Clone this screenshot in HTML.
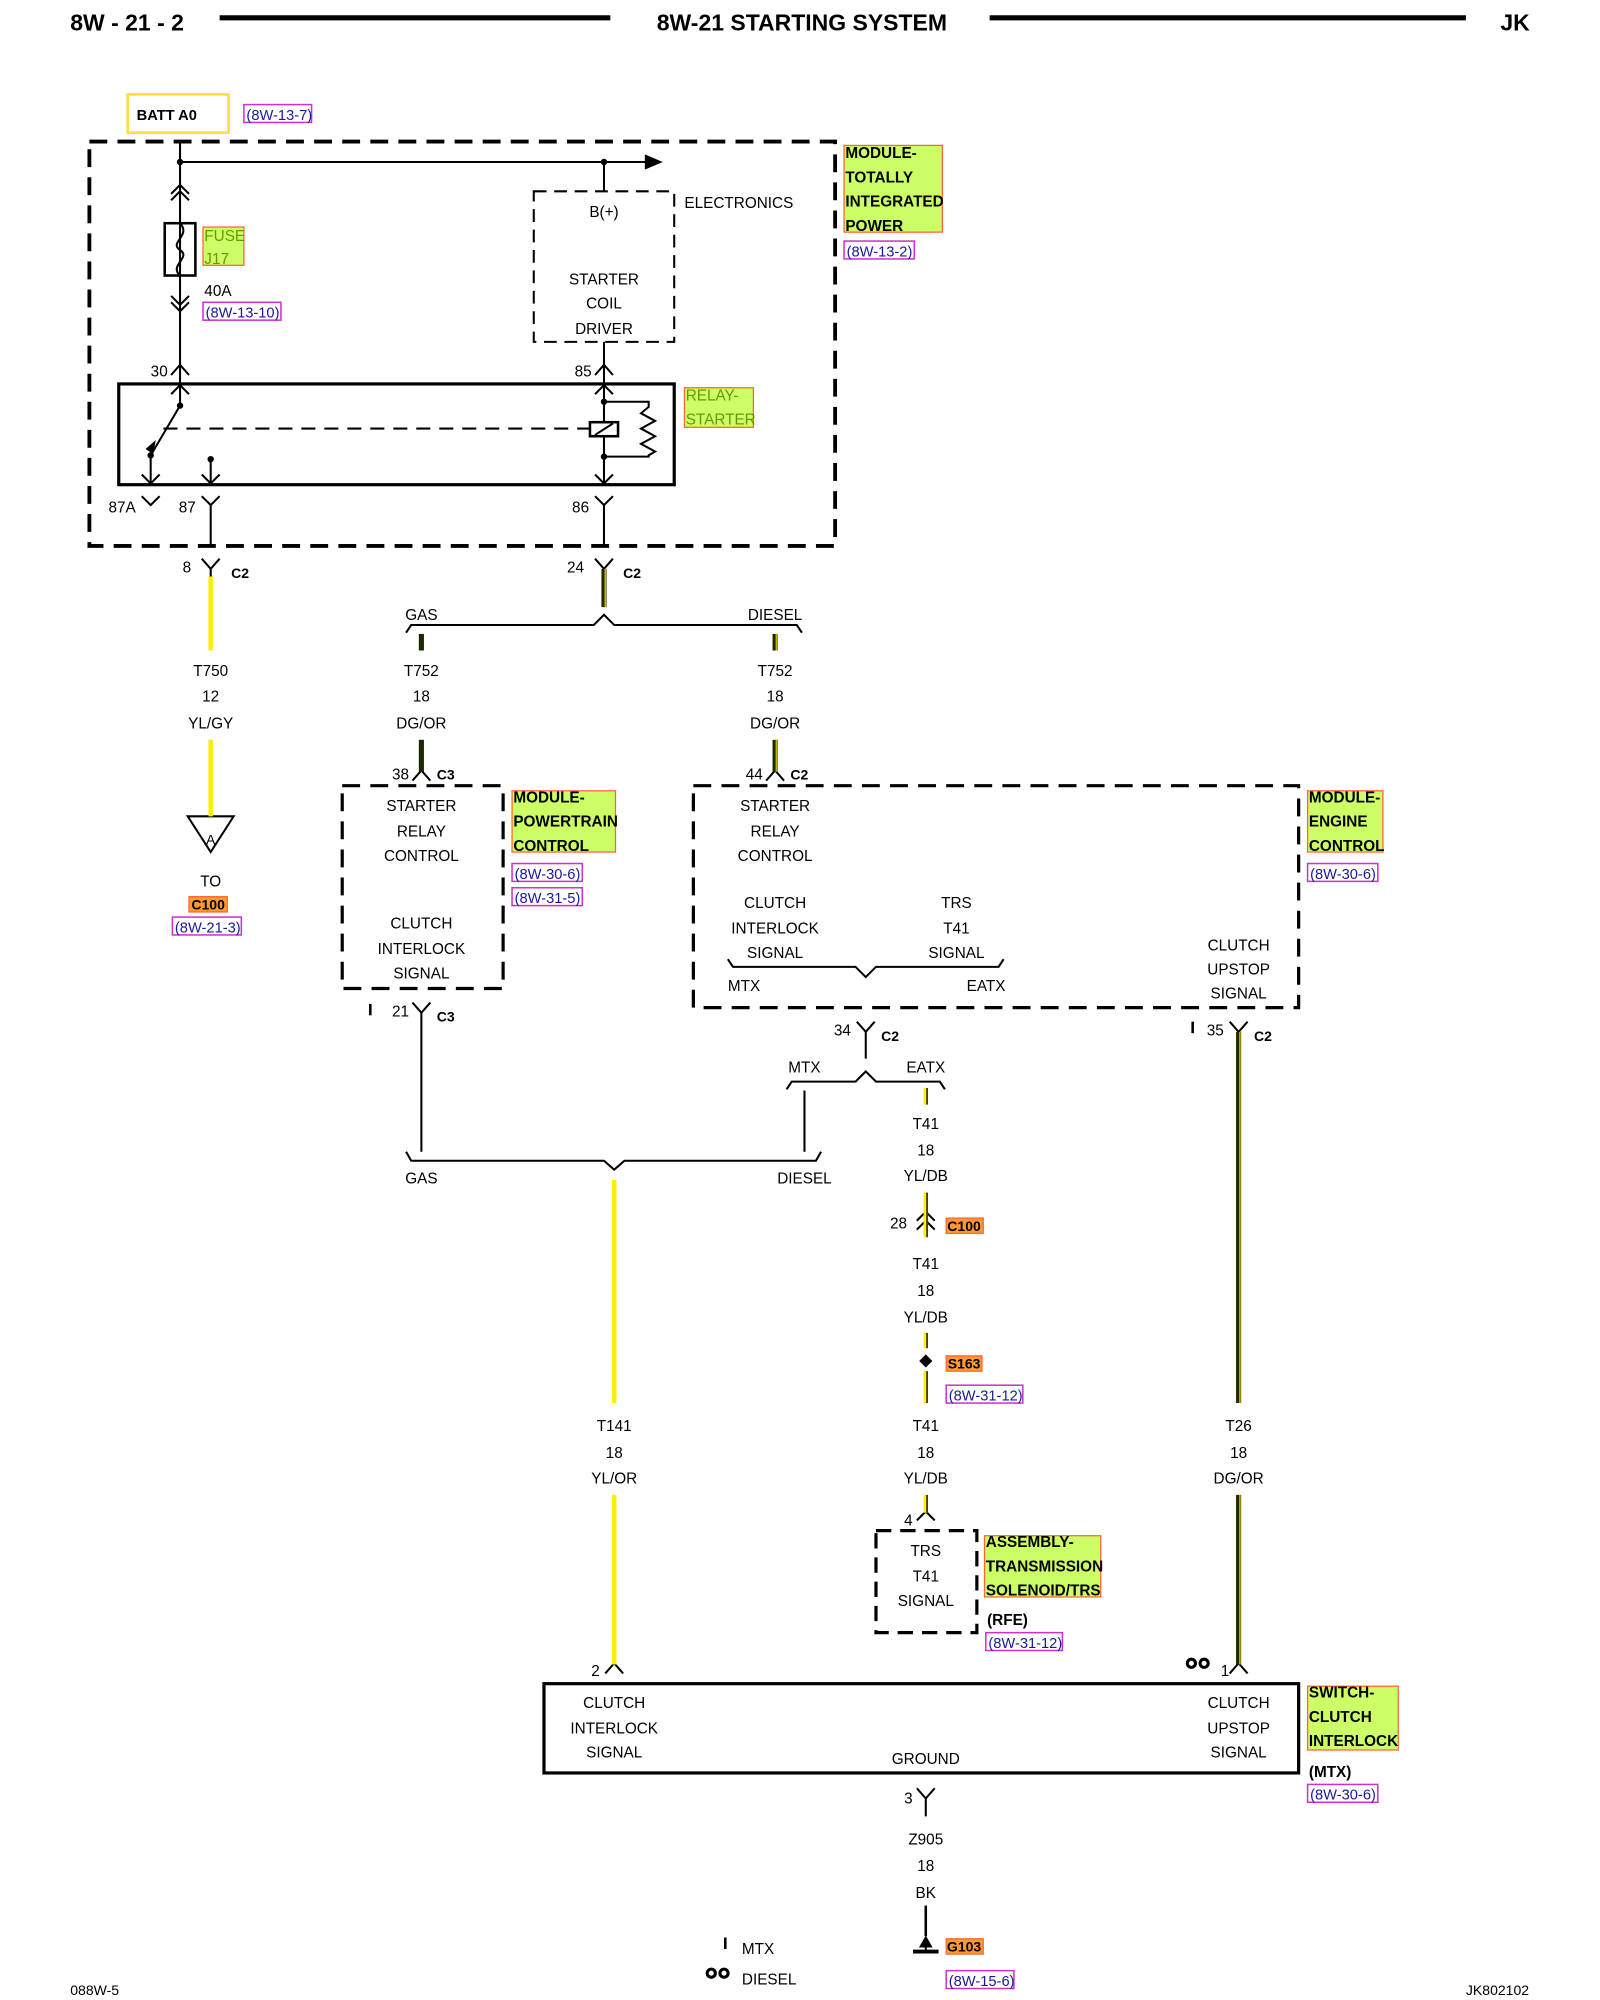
<!DOCTYPE html>
<html><head><meta charset="utf-8"><style>
html,body{margin:0;padding:0;background:#fff;width:1600px;height:2000px;overflow:hidden}
svg{display:block}
text{font-family:"Liberation Sans",sans-serif;font-size:12px;fill:#000}
.c{text-anchor:middle}
.b{font-weight:bold}
.lb{fill:#ccff66;stroke:#ff6633;stroke-width:1}
.rf{fill:#fff;stroke:#cc33cc;stroke-width:1.2}
.rt{fill:#1a1a99;font-size:11.5px}
.or{fill:#ff9933;stroke:#ff6633;stroke-width:1}
</style></head><body>
<svg width="1600" height="2000" viewBox="0 0 1253 1568" preserveAspectRatio="none" xmlns="http://www.w3.org/2000/svg">
<g stroke="#000" fill="none" stroke-width="1.6">
<line x1="172" y1="14" x2="478" y2="14" stroke-width="4"/>
<line x1="775" y1="14" x2="1148" y2="14" stroke-width="4"/>
<rect x="70" y="111" width="584" height="317" stroke-width="3" stroke-dasharray="14,8"/>
<line x1="141" y1="111" x2="141" y2="300"/>
<line x1="141" y1="127" x2="506" y2="127"/>
<line x1="473" y1="127" x2="473" y2="150"/>
<path d="M134 152 L141 145 L148 152 M134 157 L141 150 L148 157"/>
<path d="M134 232 L141 239 L148 232 M134 237 L141 244 L148 237"/>
<path d="M134 294 L141 286 L148 294"/>
<path d="M466 294 L473 286 L480 294"/>
<line x1="473" y1="268" x2="473" y2="300"/>
<rect x="418" y="150" width="110" height="118" stroke-dasharray="10,6"/>
<rect x="129" y="175" width="24" height="41" stroke-width="2"/>
<path d="M141 175 C150 185,132 190,141 196 C150 202,132 208,141 216"/>
<rect x="93" y="301" width="435" height="79" stroke-width="2.5"/>
<path d="M134 309 L141 302 L148 309"/>
<line x1="141" y1="301" x2="141" y2="318"/>
<line x1="141" y1="318" x2="118" y2="357"/>
<line x1="118" y1="357" x2="118" y2="379"/>
<path d="M111 372 L118 379 L125 372"/>
<line x1="165" y1="360" x2="165" y2="379"/>
<path d="M158 372 L165 379 L172 372"/>
<line x1="128" y1="336" x2="462" y2="336" stroke-dasharray="11,7"/>
<line x1="473" y1="301" x2="473" y2="380"/>
<path d="M466 309 L473 302 L480 309 M466 372 L473 379 L480 372"/>
<rect x="462" y="331" width="22" height="11" fill="#fff" stroke-width="2"/>
<line x1="466" y1="341" x2="480" y2="332"/>
<path d="M473 315 L508 315 L508 319 L502 324 L513 330 L502 336 L513 342 L502 348 L513 354 L508 357 L508 358 L473 358"/>
<path d="M111 389 L118 396 L125 389"/>
<path d="M158 389 L165 396 L172 389 M165 396 L165 428"/>
<path d="M466 389 L473 396 L480 389 M473 396 L473 428"/>
<path d="M158 438 L165 446 L172 438 M165 446 L165 452"/>
<path d="M466 438 L473 446 L480 438"/>
<path d="M318 496 L322 490 L465 490 L473 482 L481 490 L624 490 L628 496"/>
<path d="M147 640 L183 640 L165 668 Z"/>
<rect x="268" y="616" width="126" height="159" stroke-width="2.5" stroke-dasharray="14,8"/>
<path d="M323 612 L330 604 L337 612"/>
<rect x="543" y="616" width="474" height="174" stroke-width="2.5" stroke-dasharray="14,8"/>
<path d="M600 612 L607 604 L614 612"/>
<path d="M570 752 L574 758 L670 758 L678 766 L686 758 L782 758 L786 752"/>
<line x1="290" y1="787" x2="290" y2="796" stroke-width="2"/>
<path d="M323 786 L330 794 L337 786 M330 794 L330 903"/>
<path d="M671 801 L678 809 L685 801 M678 809 L678 830"/>
<line x1="934" y1="801" x2="934" y2="810" stroke-width="2"/>
<path d="M963 801 L970 809 L977 801"/>
<path d="M616 854 L620 848 L670 848 L678 840 L686 848 L736 848 L740 854"/>
<line x1="630" y1="855" x2="630" y2="903"/>
<path d="M318 903 L322 910 L473 910 L481 917 L489 910 L639 910 L643 903"/>
<path d="M718 957 L725 950 L732 957 M718 964 L725 957 L732 964"/>
<path d="M725 1063 L729 1067 L725 1071 L721 1067 Z" fill="#000"/>
<path d="M718 1192 L725 1185 L732 1192"/>
<rect x="686" y="1200" width="79" height="80" stroke-width="2.5" stroke-dasharray="12,7"/>
<path d="M474 1312 L481 1304 L488 1312"/>
<path d="M963 1312 L970 1304 L977 1312"/>
<rect x="426" y="1320" width="591" height="70" stroke-width="2.5"/>
<path d="M718 1402 L725 1410 L732 1402 M725 1410 L725 1424"/>
<line x1="725" y1="1494" x2="725" y2="1518" stroke-width="2"/>
<line x1="715" y1="1530" x2="735" y2="1530" stroke-width="3"/>
<path d="M725 1519 L729 1526 L721 1526 Z" fill="#000"/>
<line x1="725" y1="1526" x2="725" y2="1530"/>
<line x1="568" y1="1519" x2="568" y2="1528" stroke-width="2"/>
</g>
<g fill="#000">
<circle cx="141" cy="127" r="2.5"/><circle cx="473" cy="127" r="2.5"/>
<circle cx="141" cy="318" r="2.5"/><circle cx="118" cy="357" r="2.5"/><circle cx="165" cy="360" r="2.5"/>
<circle cx="473" cy="315" r="2.5"/><circle cx="473" cy="358" r="2.5"/>
<path d="M505 121 L519 127 L505 133 Z"/>
<path d="M114 352 L122 345 L120 356 Z"/>
</g>
<g fill="none" stroke="#000" stroke-width="2.4">
<circle cx="933" cy="1304" r="3.2"/><circle cx="943" cy="1304" r="3.2"/>
<circle cx="557" cy="1547" r="3.2"/><circle cx="567" cy="1547" r="3.2"/>
</g>
<g stroke="#ffee00" stroke-width="3.5">
<line x1="165" y1="452" x2="165" y2="510"/>
<line x1="165" y1="580" x2="165" y2="640"/>
<line x1="481" y1="925" x2="481" y2="1100"/>
<line x1="481" y1="1172" x2="481" y2="1305"/>
<line x1="725" y1="853" x2="725" y2="866"/>
<line x1="725" y1="935" x2="725" y2="970"/>
<line x1="725" y1="1045" x2="725" y2="1057"/>
<line x1="725" y1="1075" x2="725" y2="1100"/>
<line x1="725" y1="1172" x2="725" y2="1186"/>
</g>
<g stroke="#1a1a00" stroke-width="1.2">
<line x1="726" y1="853" x2="726" y2="866"/>
<line x1="726" y1="935" x2="726" y2="970"/>
<line x1="726" y1="1045" x2="726" y2="1057"/>
<line x1="726" y1="1075" x2="726" y2="1100"/>
<line x1="726" y1="1172" x2="726" y2="1186"/>
</g>
<g stroke="#1a2a00" stroke-width="4">
<line x1="473" y1="446" x2="473" y2="476"/>
<line x1="330" y1="497" x2="330" y2="510"/>
<line x1="607" y1="497" x2="607" y2="510"/>
<line x1="330" y1="580" x2="330" y2="605"/>
<line x1="607" y1="580" x2="607" y2="605"/>
<line x1="970" y1="809" x2="970" y2="1100"/>
<line x1="970" y1="1172" x2="970" y2="1305"/>
</g>
<g stroke="#ccaa00" stroke-width="1.3">
<line x1="474" y1="446" x2="474" y2="476"/>
<line x1="608" y1="497" x2="608" y2="510"/>
<line x1="608" y1="580" x2="608" y2="605"/>
<line x1="971" y1="809" x2="971" y2="1100"/>
<line x1="971" y1="1172" x2="971" y2="1305"/>
</g>
<text x="55" y="24" class="b" style="font-size:18px">8W - 21 - 2</text>
<text x="628" y="24" class="b c" style="font-size:18px">8W-21 STARTING SYSTEM</text>
<text x="1175" y="24" class="b" style="font-size:18px">JK</text>
<rect x="100" y="74" width="79" height="30" fill="#fff" stroke="#ffdd33" stroke-width="2"/>
<text x="107" y="94" class="b" style="font-size:11.5px">BATT A0</text>
<rect x="191" y="82" width="53" height="14" class="rf"/><text x="193" y="94" class="rt">(8W-13-7)</text>
<rect x="159" y="178" width="32" height="30" class="lb"/>
<text x="160" y="189" style="fill:#669900">FUSE</text><text x="160" y="207" style="fill:#669900">J17</text>
<text x="160" y="232">40A</text>
<rect x="159" y="237" width="61" height="14" class="rf"/><text x="161" y="249" class="rt">(8W-13-10)</text>
<text x="473" y="170" class="c">B(+)</text>
<text x="473" y="223" class="c">STARTER</text><text x="473" y="242" class="c">COIL</text><text x="473" y="262" class="c">DRIVER</text>
<text x="536" y="163">ELECTRONICS</text>
<rect x="661" y="114" width="77" height="68" class="lb"/>
<text x="662" y="124" class="b">MODULE-</text><text x="662" y="143" class="b">TOTALLY</text><text x="662" y="162" class="b">INTEGRATED</text><text x="662" y="181" class="b">POWER</text>
<rect x="661" y="189" width="55" height="14" class="rf"/><text x="663" y="201" class="rt">(8W-13-2)</text>
<text x="118" y="295">30</text><text x="450" y="295">85</text>
<rect x="536" y="304" width="54" height="31" class="lb"/>
<text x="537" y="314" style="fill:#669900">RELAY-</text><text x="537" y="333" style="fill:#669900">STARTER</text>
<text x="85" y="402">87A</text><text x="140" y="402">87</text><text x="448" y="402">86</text>
<text x="143" y="449">8</text><text x="181" y="453" class="b" style="font-size:11px">C2</text>
<text x="444" y="449">24</text><text x="488" y="453" class="b" style="font-size:11px">C2</text>
<text x="330" y="486" class="c">GAS</text><text x="607" y="486" class="c">DIESEL</text>
<text x="165" y="530" class="c">T750</text><text x="165" y="550" class="c">12</text><text x="165" y="571" class="c">YL/GY</text>
<text x="330" y="530" class="c">T752</text><text x="330" y="550" class="c">18</text><text x="330" y="571" class="c">DG/OR</text>
<text x="607" y="530" class="c">T752</text><text x="607" y="550" class="c">18</text><text x="607" y="571" class="c">DG/OR</text>
<text x="165" y="662" class="c" style="font-size:11px">A</text>
<text x="165" y="695" class="c">TO</text>
<rect x="148" y="703" width="30" height="12" class="or"/><text x="163" y="713" class="c b" style="font-size:11px">C100</text>
<rect x="135" y="719" width="54" height="14" class="rf"/><text x="137" y="731" class="rt">(8W-21-3)</text>
<text x="307" y="611">38</text><text x="342" y="611" class="b" style="font-size:11px">C3</text>
<text x="584" y="611">44</text><text x="619" y="611" class="b" style="font-size:11px">C2</text>
<text x="330" y="636" class="c">STARTER</text><text x="330" y="656" class="c">RELAY</text><text x="330" y="675" class="c">CONTROL</text>
<text x="330" y="728" class="c">CLUTCH</text><text x="330" y="748" class="c">INTERLOCK</text><text x="330" y="767" class="c">SIGNAL</text>
<rect x="401" y="620" width="81" height="48" class="lb"/>
<text x="402" y="629" class="b">MODULE-</text><text x="402" y="648" class="b">POWERTRAIN</text><text x="402" y="667" class="b">CONTROL</text>
<rect x="401" y="677" width="55" height="14" class="rf"/><text x="403" y="689" class="rt">(8W-30-6)</text>
<rect x="401" y="696" width="55" height="14" class="rf"/><text x="403" y="708" class="rt">(8W-31-5)</text>
<text x="607" y="636" class="c">STARTER</text><text x="607" y="656" class="c">RELAY</text><text x="607" y="675" class="c">CONTROL</text>
<text x="607" y="712" class="c">CLUTCH</text><text x="607" y="732" class="c">INTERLOCK</text><text x="607" y="751" class="c">SIGNAL</text>
<text x="749" y="712" class="c">TRS</text><text x="749" y="732" class="c">T41</text><text x="749" y="751" class="c">SIGNAL</text>
<text x="570" y="777">MTX</text><text x="757" y="777">EATX</text>
<text x="970" y="745" class="c">CLUTCH</text><text x="970" y="764" class="c">UPSTOP</text><text x="970" y="783" class="c">SIGNAL</text>
<rect x="1024" y="620" width="59" height="48" class="lb"/>
<text x="1025" y="629" class="b">MODULE-</text><text x="1025" y="648" class="b">ENGINE</text><text x="1025" y="667" class="b">CONTROL</text>
<rect x="1024" y="677" width="55" height="14" class="rf"/><text x="1026" y="689" class="rt">(8W-30-6)</text>
<text x="307" y="797">21</text><text x="342" y="801" class="b" style="font-size:11px">C3</text>
<text x="653" y="812">34</text><text x="690" y="816" class="b" style="font-size:11px">C2</text>
<text x="945" y="812">35</text><text x="982" y="816" class="b" style="font-size:11px">C2</text>
<text x="630" y="841" class="c">MTX</text><text x="725" y="841" class="c">EATX</text>
<text x="330" y="928" class="c">GAS</text><text x="630" y="928" class="c">DIESEL</text>
<text x="725" y="885" class="c">T41</text><text x="725" y="906" class="c">18</text><text x="725" y="926" class="c">YL/DB</text>
<text x="697" y="963">28</text>
<rect x="741" y="955" width="29" height="12" class="or"/><text x="755" y="965" class="c b" style="font-size:11px">C100</text>
<text x="725" y="995" class="c">T41</text><text x="725" y="1016" class="c">18</text><text x="725" y="1037" class="c">YL/DB</text>
<rect x="741" y="1063" width="28" height="12" class="or"/><text x="755" y="1073" class="c b" style="font-size:11px">S163</text>
<rect x="741" y="1086" width="60" height="14" class="rf"/><text x="743" y="1098" class="rt">(8W-31-12)</text>
<text x="481" y="1122" class="c">T141</text><text x="481" y="1143" class="c">18</text><text x="481" y="1163" class="c">YL/OR</text>
<text x="725" y="1122" class="c">T41</text><text x="725" y="1143" class="c">18</text><text x="725" y="1163" class="c">YL/DB</text>
<text x="970" y="1122" class="c">T26</text><text x="970" y="1143" class="c">18</text><text x="970" y="1163" class="c">DG/OR</text>
<text x="708" y="1196">4</text>
<text x="725" y="1220" class="c">TRS</text><text x="725" y="1240" class="c">T41</text><text x="725" y="1259" class="c">SIGNAL</text>
<rect x="771" y="1204" width="91" height="48" class="lb"/>
<text x="772" y="1213" class="b">ASSEMBLY-</text><text x="772" y="1232" class="b">TRANSMISSION</text><text x="772" y="1251" class="b">SOLENOID/TRS</text>
<text x="773" y="1274" class="b">(RFE)</text>
<rect x="772" y="1280" width="60" height="14" class="rf"/><text x="774" y="1292" class="rt">(8W-31-12)</text>
<text x="463" y="1314">2</text><text x="956" y="1314">1</text>
<text x="481" y="1339" class="c">CLUTCH</text><text x="481" y="1359" class="c">INTERLOCK</text><text x="481" y="1378" class="c">SIGNAL</text>
<text x="725" y="1383" class="c">GROUND</text>
<text x="970" y="1339" class="c">CLUTCH</text><text x="970" y="1359" class="c">UPSTOP</text><text x="970" y="1378" class="c">SIGNAL</text>
<rect x="1024" y="1322" width="71" height="50" class="lb"/>
<text x="1025" y="1331" class="b">SWITCH-</text><text x="1025" y="1350" class="b">CLUTCH</text><text x="1025" y="1369" class="b">INTERLOCK</text>
<text x="1025" y="1393" class="b">(MTX)</text>
<rect x="1024" y="1399" width="55" height="14" class="rf"/><text x="1026" y="1411" class="rt">(8W-30-6)</text>
<text x="708" y="1414">3</text>
<text x="725" y="1446" class="c">Z905</text><text x="725" y="1467" class="c">18</text><text x="725" y="1488" class="c">BK</text>
<rect x="741" y="1520" width="29" height="12" class="or"/><text x="755" y="1530" class="c b" style="font-size:11px">G103</text>
<rect x="741" y="1545" width="53" height="14" class="rf"/><text x="743" y="1557" class="rt">(8W-15-6)</text>
<text x="581" y="1532">MTX</text><text x="581" y="1556">DIESEL</text>
<text x="55" y="1564" style="font-size:11px">088W-5</text>
<text x="1148" y="1564" style="font-size:11px">JK802102</text>
</svg>
</body></html>
